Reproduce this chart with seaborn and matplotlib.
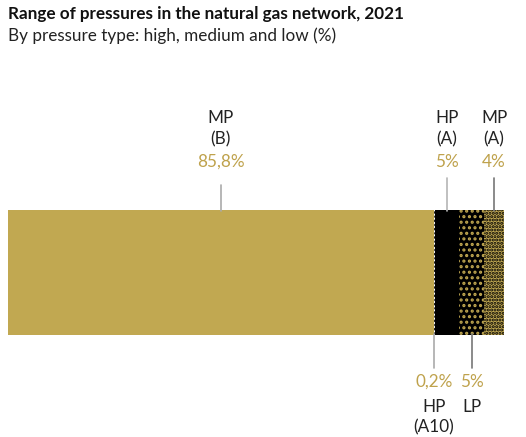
import matplotlib
matplotlib.use('Agg')
import matplotlib.pyplot as plt
import matplotlib.transforms as mtransforms
import numpy as np
import seaborn as sns

# datos del gráfico
segmentos = ['MP (B)', 'HP (A10)', 'HP (A)', 'LP', 'MP (A)']
valores = [85.8, 0.2, 5, 5, 4]
etiquetas_pct = ['85,8%', '0,2%', '5%', '5%', '4%']
etiquetas_arriba = [['MP', '(B)'], None, ['HP', '(A)'], None, ['MP', '(A)']]
etiquetas_abajo = [None, ['HP', '(A10)'], None, ['LP'], None]

oro = '#c1a851'
oro_txt = '#bfa24c'
relleno = [oro, 'white', 'black', 'black', oro]
puntos = [None, 'black', None, oro, 'black']
tramas = ['', '....', '', '...', '.....']
linea_col = ['#aaaaaa', '#aaaaaa', '#b5b5b5', '#777777', '#777777']

sns.set_style('white')
plt.rcParams['font.family'] = ['Lato', 'DejaVu Sans']
plt.rcParams['hatch.linewidth'] = 1.5

W, H = 526, 437
fig = plt.figure(figsize=(W / 100, H / 100), dpi=100)
ax = fig.add_axes([8 / W, (H - 335) / H, 496 / W, 125 / H])

# barras apiladas: acumulados de mayor a menor
acum = np.cumsum(valores)
for i in reversed(range(len(valores))):
    sns.barplot(x=[acum[i]], y=['total'], orient='h', color=relleno[i],
                saturation=1, width=1,
                edgecolor=puntos[i] if puntos[i] else relleno[i],
                linewidth=0, hatch=tramas[i], ax=ax)

ax.set_xlim(0, 100)
ax.set_ylim(0.5, -0.5)
ax.axis('off')

# textos y líneas guía (x en datos, y en píxeles desde arriba)
def ypx(y):
    return 1 - y / H
trf = mtransforms.blended_transform_factory(ax.transData, fig.transFigure)

fs = 12.3
centros = acum - np.array(valores) / 2
for i, c in enumerate(centros):
    if etiquetas_arriba[i]:
        y0 = 185 if i == 0 else 178
        ax.plot([c, c], [ypx(y0), ypx(211)], color=linea_col[i], lw=1.2,
                transform=trf, clip_on=False)
        ax.text(c, ypx(162), etiquetas_pct[i], color=oro_txt, fontsize=fs,
                ha='center', va='center', transform=trf)
        for j, t in enumerate(etiquetas_arriba[i]):
            ax.text(c, ypx(118 + 21 * j), t, color='#222222', fontsize=fs,
                    ha='center', va='center', transform=trf)
    else:
        ax.plot([c, c], [ypx(334), ypx(368)], color=linea_col[i], lw=1.2,
                transform=trf, clip_on=False)
        ax.text(c, ypx(382), etiquetas_pct[i], color=oro_txt, fontsize=fs,
                ha='center', va='center', transform=trf)
        for j, t in enumerate(etiquetas_abajo[i]):
            ax.text(c, ypx(407 + 20 * j), t, color='#222222', fontsize=fs,
                    ha='center', va='center', transform=trf)

fig.text(8 / W, ypx(14), 'Range of pressures in the natural gas network, 2021',
         fontsize=12.3, fontweight='bold', color='#111111', va='center')
fig.text(8 / W, ypx(36), 'By pressure type: high, medium and low (%)',
         fontsize=12.3, color='#222222', va='center')

fig.savefig('out.png', dpi=100)
